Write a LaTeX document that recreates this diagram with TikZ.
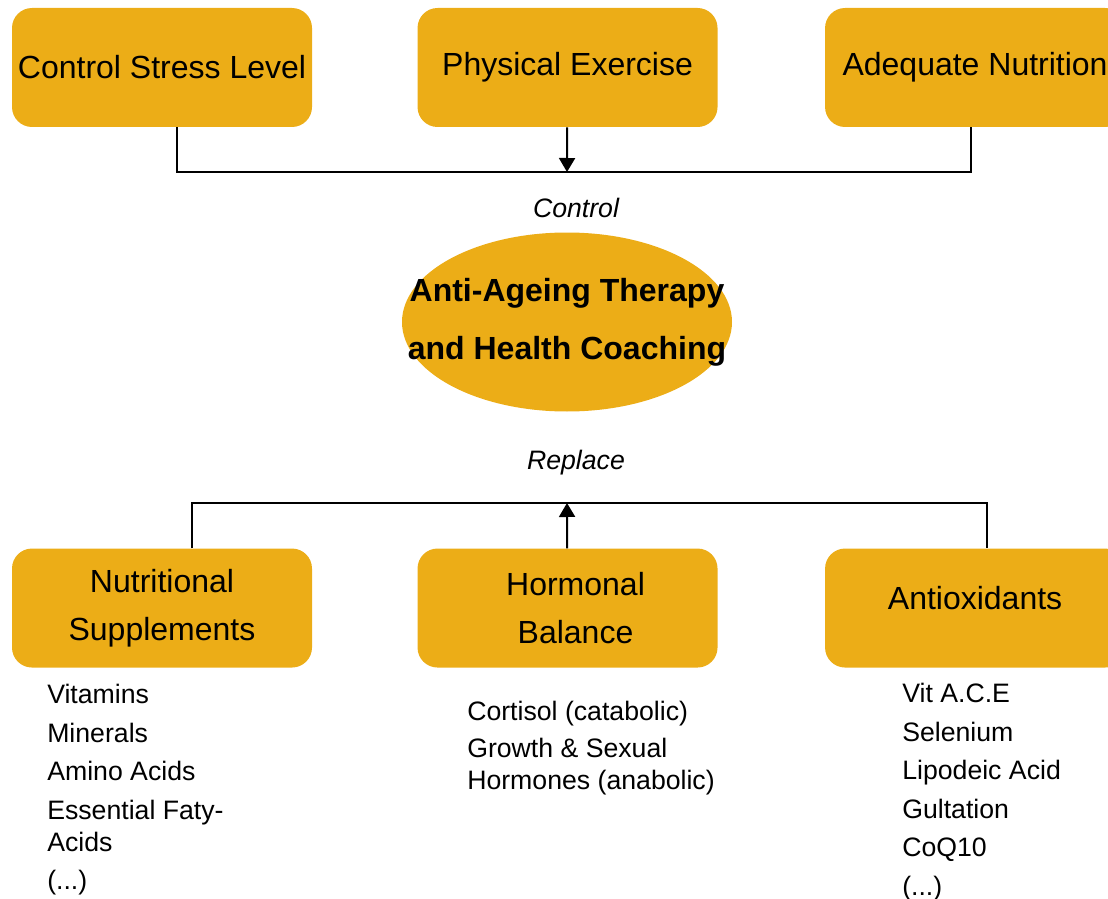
\documentclass[tikz,border=0pt]{standalone}
\usepackage{fontspec}
\setmainfont{Liberation Sans}
\usepackage{tikz}
\usetikzlibrary{
  shapes.geometric,
  arrows.meta,
  positioning
}
\definecolor{Gold}{RGB}{236, 173, 23}

\begin{document}
\begin{tikzpicture}[
        x=0.75pt, y=-0.75pt,
        node distance=315.75pt and 78.75pt,
        box/.style={rectangle, fill=Gold, rounded corners=15pt, minimum width=225pt, minimum height=89.25pt, inner sep=2pt, align=center, font=\fontsize{24}{36}\selectfont},
        oval/.style={ellipse, fill=Gold, minimum width=247.5pt, minimum height=134.25pt, inner xsep=-32pt, inner ysep=0pt, align=center, font=\fontsize{24}{43.5}\selectfont\bfseries},
        tag/.style={font=\fontsize{20}{24}\selectfont\itshape},
        items/.style={anchor=north west, inner sep=0pt, align=left, font=\fontsize{20}{24}\selectfont},
        link/.style={line width=1.5pt},
        arrow/.style={link, -{Triangle[width=12pt,length=10.5pt]}}
    ]
    \clip (0,0) rectangle (1108,899);

    % Top row nodes
    \node[box] (stress) at (162,67.5) {Control Stress Level};
    \node[box, right=of stress] (exercise) {Physical Exercise};
    \node[box, right=80.25pt of exercise] (nutrition) {Adequate Nutrition};

    % Centre
    \node[oval] (therapy) at (567,322) {Anti-Ageing Therapy\\and Health Coaching};
    \node[tag] (control) at (576,208) {Control};
    \node[tag] (replace) at (576,463) {Replace};

    % Bottom row nodes
    \node[box, below=of stress] (supplements) {Nutritional\\Supplements};
    \node[box, below=of exercise] (hormonal) {\hspace*{12pt}Hormonal\\\hspace*{12pt}Balance};
    \node[box, below=of nutrition] (antioxidants) {\raisebox{15pt}{Antioxidants}};

    % Lists under the bottom row
    \node[items] (suplist) at (47,684) {Vitamins\\[4.9pt]Minerals\\[4.9pt]Amino Acids\\[4.9pt]Essential Faty-\\Acids\\[4.9pt](...)};
    \node[items] (hormlist) at (467,701) {Cortisol (catabolic)\\[3.75pt]Growth \& Sexual\\Hormones (anabolic)};
    \node[items] (oxilist) at (902,683) {Vit A.C.E\\[4.9pt]Selenium\\[4.9pt]Lipodeic Acid\\[4.9pt]Gultation\\[4.9pt]CoQ10\\[4.9pt](...)};

    % Connectors
    \coordinate (topbar) at (567,172);
    \coordinate (botbar) at (567,503);
    \draw[link] ([xshift=11.25pt]stress.south) |- (topbar) -| ([xshift=-3pt]nutrition.south);
    \draw[arrow] (exercise) -- (topbar); % Arrow pointing down
    \draw[link] ([xshift=22.5pt]supplements.north) |- (botbar) -| ([xshift=9pt]antioxidants.north);
    \draw[arrow] (hormonal) -- (botbar); % Arrow pointing up

\end{tikzpicture}
\end{document}
